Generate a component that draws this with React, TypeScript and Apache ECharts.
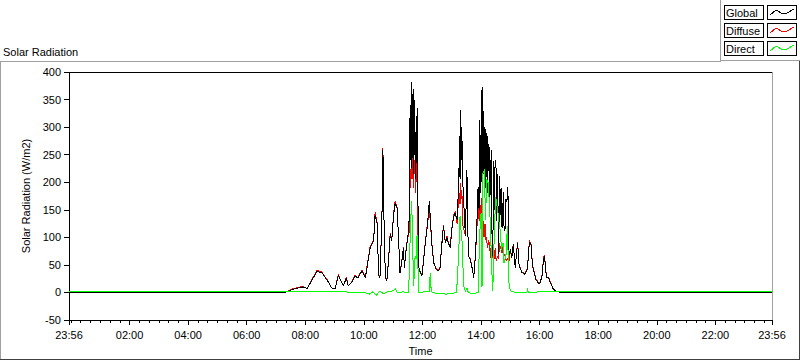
import React, { useEffect, useRef } from "react";
import * as echarts from "echarts";

// ---- Data (minutes since midnight; -4 = 23:56 of the previous day) ----
const globalTimes = [
  -4, 418, 439, 455, 475, 484, 492, 504, 514, 527, 534, 541, 548, 551, 558, 564, 568, 575, 582, 588,
  592, 596, 603, 607, 613, 620, 623, 627, 628, 631, 633, 637, 639, 641, 644, 647, 650, 654, 657, 661,
  664, 668, 671, 674, 678, 681, 683, 687, 690, 693, 694, 695, 696, 697, 698, 699, 700, 701, 702, 703,
  704, 705, 706, 707, 708, 709, 710, 711, 713, 719, 726,
  730, 734, 736, 739, 743, 748, 753, 756, 760, 763, 767, 770, 773, 777, 780, 784, 787, 791, 794, 795,
  796, 797, 798, 799, 800, 801, 803, 808, 811, 814, 818, 821, 825, 828, 831, 834, 836, 837, 838, 839,
  840, 841, 842, 843, 844, 845, 846, 847, 848, 849, 850, 851, 852, 853, 854, 855, 856, 857, 858, 859,
  860, 861, 862, 864, 866, 867, 868, 869, 871, 872, 874, 876, 878, 879, 881, 883, 885, 886, 887, 889,
  891, 893, 895, 897, 900, 903, 906, 910, 915, 918, 924, 930, 935, 939, 943, 945, 947, 953, 960, 965,
  968, 970, 974, 978, 982, 988, 995, 1002, 1008, 1436,
];
const globalValues = [
  -1, -1, 0, 6, 10, 7, 20, 38, 36, 19, 8, 7, 31, 24, 12, 26, 12, 18, 30, 26,
  33, 39, 27, 48, 81, 93, 141, 126, 90, 30, 27, 135, 259, 141, 27, 21, 51, 105, 93, 141,
  162, 153, 99, 36, 57, 81, 45, 81, 99, 135, 290, 340, 240, 382, 225, 360, 298, 215, 370, 250,
  350, 274, 205, 300, 235, 334, 200, 153, 42, 30, 90,
  120, 165, 138, 90, 54, 42, 39, 45, 90, 120, 90, 100, 90, 81, 114, 138, 144, 132, 192, 230,
  283, 205, 331, 240, 300, 277, 192, 102, 223, 66, 60, 48, 27, 60, 114, 192, 150, 313, 180, 220,
  290, 367, 200, 373, 240, 330, 215, 235, 300, 280, 190, 290, 265, 180, 283, 220, 270, 250, 150, 240,
  177, 259, 120, 66, 238, 150, 205, 240, 223, 130, 214, 69, 211, 140, 190, 117, 162, 183, 120, 111,
  170, 165, 192, 66, 78, 63, 87, 45, 90, 48, 36, 33, 42, 92, 85, 51, 42, 22, 15, 30,
  60, 66, 27, 27, 18, 6, 2, 0, -1, -1,
];
const diffuseValues = [
  -1, -1, 0, 7, 11, 7, 21, 40, 37, 20, 8, 7, 33, 25, 12, 28, 12, 19, 31, 27,
  34, 41, 28, 50, 84, 95, 146, 128, 90, 31, 27, 137, 262, 142, 28, 22, 53, 108, 94, 143,
  166, 155, 100, 37, 59, 82, 46, 83, 100, 110, 200, 215, 190, 250, 205, 245, 235, 190, 262, 215,
  240, 215, 180, 230, 200, 245, 150, 95, 42, 31, 92,
  123, 150, 130, 91, 55, 43, 40, 46, 92, 122, 91, 103, 91, 83, 116, 140, 147, 125, 170, 175,
  180, 160, 198, 170, 185, 175, 120, 103, 220, 66, 61, 49, 28, 62, 106, 165, 130, 178, 140, 150,
  160, 172, 140, 165, 110, 130, 100, 105, 125, 118, 95, 100, 92, 80, 85, 90, 95, 95, 75, 80,
  62, 75, 70, 62, 68, 60, 72, 80, 58, 60, 66, 60, 90, 80, 85, 72, 88, 90, 70, 66,
  60, 58, 62, 55, 75, 63, 88, 46, 92, 49, 37, 34, 43, 94, 86, 52, 43, 23, 16, 31,
  62, 68, 28, 28, 19, 6, 2, 0, -1, -1,
];
const directTimes = [
  -4, 418, 560, 575, 600, 612, 618, 626, 632, 640, 648, 660, 664, 668, 680, 692, 693, 696, 698, 700,
  702, 705, 707, 709, 710, 712, 734, 736, 738, 750, 770, 785, 790, 791, 794, 797, 799, 802, 804, 808,
  811, 814, 820, 830, 834, 835, 837, 840, 842, 844, 847, 849, 852, 855, 859, 862, 864, 867, 870, 874,
  877, 879, 882, 885, 887, 891, 894, 897, 900, 915, 934, 935, 937, 960, 1000, 1436,
];
const directValues = [
  2, 2, 2, -1, 0.5, -3, 1, -5, 2, -2, 1, 3, 7, 0, 1, 0, 48, 132, 165, 84,
  12, 66, 60, 105, 78, 0, 2, 36, 1, -2, -3, -1, 0, 18, 66, 138, 114, 84, 12, 2,
  8, 0, -2, -1, 0, 30, 102, 144, 10, 216, 223, 132, 205, 198, 126, 42, 2, 102, 174, 150,
  126, 114, 78, 90, 54, 66, 120, 18, 3, -1, 0, 8, 0, 1, 2, 2,
];

const majorTicks = [-4, 120, 240, 360, 480, 600, 720, 840, 960, 1080, 1200, 1320, 1436];
const minorTicks: number[] = [];
for (let m = 0; m < 1436; m += 20) if (m % 120 !== 0 || m === 0) minorTicks.push(m);

const legendNames = ["Global", "Diffuse", "Direct"];
const seriesColors = ["#000000", "#ff0000", "#00ff00"];

const FONT = "'Liberation Sans', Arial, sans-serif";

function fmt(v: number): string {
  if (v < 0 || v >= 1436) return "23:56";
  const h = Math.floor(v / 60);
  const m = Math.round(v % 60);
  return String(h).padStart(2, "0") + ":" + String(m).padStart(2, "0");
}

function pairs(t: number[], v: number[]) {
  return t.map((x, i) => [x, v[i]]);
}

export default function App() {
  const ref = useRef<HTMLDivElement>(null);
  useEffect(() => {
    if (!ref.current) return;
    const chart = echarts.init(ref.current, undefined, { renderer: "svg" });

    const legendGraphics: any[] = [];
    legendNames.forEach((name, i) => {
      const y = 5 + i * 18;
      legendGraphics.push({
        type: "rect",
        shape: { x: 724.5, y: y + 0.5, width: 39, height: 14 },
        style: { fill: "#fff", stroke: "#000", lineWidth: 1 },
      });
      legendGraphics.push({
        type: "text",
        x: 726,
        y: y + 7.5,
        style: { text: name, fill: "#000", font: `11px ${FONT}`, verticalAlign: "middle", align: "left" },
      });
      legendGraphics.push({
        type: "rect",
        shape: { x: 767.5, y: y + 0.5, width: 29, height: 14 },
        style: { fill: "#fff", stroke: "#000", lineWidth: 1 },
      });
      legendGraphics.push({
        type: "polyline",
        shape: {
          points: [
            [770, y + 10],
            [776, y + 5],
            [783, y + 9],
            [787, y + 8],
            [794, y + 4],
          ],
        },
        style: { stroke: seriesColors[i], lineWidth: 1, fill: "none" },
      });
    });

    chart.setOption({
      animation: false,
      backgroundColor: "#ffffff",
      textStyle: { fontFamily: FONT },
      grid: {
        left: 69,
        right: 28,
        top: 72,
        bottom: 39,
        show: true,
        borderColor: "#000",
        borderWidth: 1,
        backgroundColor: "#ffffff",
      },
      xAxis: [
        {
          type: "value",
          min: -4,
          max: 1436,
          position: "bottom",
          axisLine: { show: true, onZero: false, lineStyle: { color: "#000", width: 1 } },
          axisTick: { show: true, customValues: majorTicks, length: 5, lineStyle: { color: "#000" } },
          axisLabel: {
            show: true,
            customValues: majorTicks,
            formatter: (v: number) => fmt(v),
            color: "#000",
            fontSize: 11,
            fontFamily: FONT,
            margin: 9,
          },
          splitLine: { show: false },
          name: "Time",
          nameLocation: "middle",
          nameGap: 25,
          nameTextStyle: { color: "#000", fontSize: 11, fontFamily: FONT },
        },
        {
          type: "value",
          min: -4,
          max: 1436,
          position: "bottom",
          axisLine: { show: false, onZero: false },
          axisTick: { show: true, customValues: minorTicks, length: 3, lineStyle: { color: "#000" } },
          axisLabel: { show: false },
          splitLine: { show: false },
        },
      ],
      yAxis: [
        {
          type: "value",
          min: -50,
          max: 400,
          interval: 50,
          axisLine: { show: true, onZero: false, lineStyle: { color: "#000", width: 1 } },
          axisTick: { show: true, length: 5, lineStyle: { color: "#000" } },
          axisLabel: { color: "#000", fontSize: 11, fontFamily: FONT, margin: 8 },
          splitLine: { show: false },
          name: "Solar Radiation (W/m2)",
          nameLocation: "middle",
          nameGap: 33,
          nameRotate: 90,
          nameTextStyle: { color: "#000", fontSize: 11, fontFamily: FONT },
        },
        {
          type: "value",
          min: -50,
          max: 400,
          interval: 50,
          position: "right",
          axisLine: { show: true, onZero: false, lineStyle: { color: "#a0a0a0", width: 1 } },
          axisTick: { show: false },
          axisLabel: { show: false },
          splitLine: { show: false },
        },
      ],
      series: [
        {
          name: "Diffuse",
          type: "line",
          xAxisIndex: 0,
          yAxisIndex: 0,
          data: pairs(globalTimes, diffuseValues),
          showSymbol: false,
          lineStyle: { color: seriesColors[1], width: 1 },
          z: 2,
        },
        {
          name: "Global",
          type: "line",
          xAxisIndex: 0,
          yAxisIndex: 0,
          data: pairs(globalTimes, globalValues),
          showSymbol: false,
          lineStyle: { color: seriesColors[0], width: 1 },
          z: 3,
        },
        {
          name: "Direct",
          type: "line",
          xAxisIndex: 0,
          yAxisIndex: 0,
          data: pairs(directTimes, directValues),
          showSymbol: false,
          lineStyle: { color: seriesColors[2], width: 1 },
          z: 4,
        },
      ],
      graphic: [
        {
          type: "text",
          left: 3,
          top: 46,
          style: { text: "Solar Radiation", fill: "#000", font: `11px ${FONT}` },
        },
        // outer frame
        { type: "line", shape: { x1: 0, y1: 61.5, x2: 721, y2: 61.5 }, style: { stroke: "#a0a0a0", lineWidth: 1 } },
        { type: "line", shape: { x1: 0.5, y1: 61, x2: 0.5, y2: 360 }, style: { stroke: "#a0a0a0", lineWidth: 1 } },
        { type: "line", shape: { x1: 0, y1: 359.5, x2: 800, y2: 359.5 }, style: { stroke: "#404040", lineWidth: 1 } },
        { type: "line", shape: { x1: 799.5, y1: 61, x2: 799.5, y2: 360 }, style: { stroke: "#404040", lineWidth: 1 } },
        // legend panel
        { type: "line", shape: { x1: 720.5, y1: 0, x2: 720.5, y2: 62 }, style: { stroke: "#a0a0a0", lineWidth: 1 } },
        { type: "line", shape: { x1: 720, y1: 60.5, x2: 800, y2: 60.5 }, style: { stroke: "#a0a0a0", lineWidth: 1 } },
        ...legendGraphics,
      ],
    });
    return () => chart.dispose();
  }, []);

  return (
    <div
      className="chart-wrap"
      style={{ position: "fixed", left: 0, top: 0, width: 800, height: 361, background: "#fff" }}
    >
      <style>{".chart-wrap svg path{shape-rendering:crispEdges}"}</style>
      <div ref={ref} style={{ width: 800, height: 361 }} />
    </div>
  );
}
